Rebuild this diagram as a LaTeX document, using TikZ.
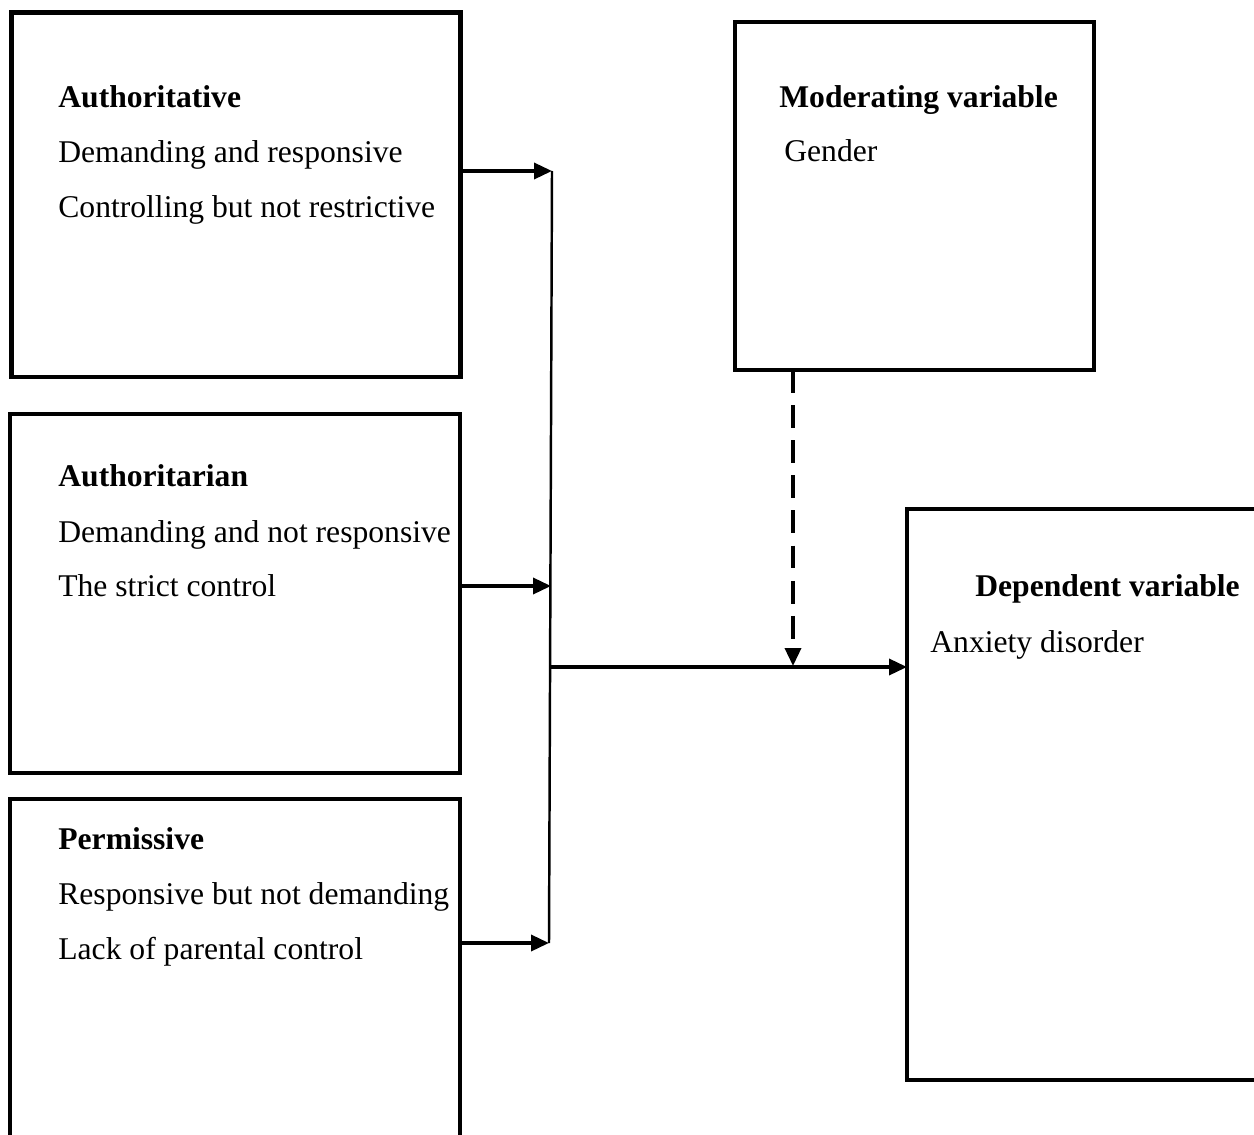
\documentclass[tikz,border=0pt]{standalone}
\usepackage{fontspec}
\setmainfont{Liberation Serif}
\usetikzlibrary{arrows.meta}

\tikzset{
  frame/.style = {draw, line width=2.6pt, inner sep=0pt, outer sep=0pt, anchor=north west},
  txt/.style = {anchor=base west, inner sep=0pt, font=\fontsize{18}{20}\selectfont},
  head/.style = {txt, font=\fontsize{18}{20}\selectfont\bfseries},
  link/.style = {line width=2pt, -{Triangle[length=0.36cm, width=0.32cm]}},
}

\begin{document}
\begin{tikzpicture}[x=0.02cm, y=-0.02cm]
  \useasboundingbox (0,0) rectangle (1254,1135);
  % boxes
  \node[frame, minimum width=8.98cm, minimum height=7.29cm] (authv) at (11.5,12.5) {};
  \node[frame, minimum width=9.0cm, minimum height=7.18cm] (autht) at (10,414) {};
  \node[frame, minimum width=9.0cm, minimum height=7.1cm] (perm) at (10,799) {};
  \node[frame, minimum width=7.18cm, minimum height=6.96cm] (moder) at (735,22) {};
  \node[frame, minimum width=7.2cm, minimum height=11.42cm] (dep) at (907,509) {};
  % texts
  \node[head] (authvH) at (58,108) {Authoritative};
  \node[txt] (authvA) at (58,163) {Demanding and responsive};
  \node[txt] (authvB) at (58,218) {Controlling but not restrictive};
  \node[head] (authtH) at (58,486) {Authoritarian};
  \node[txt] (authtA) at (58,542) {Demanding and not responsive};
  \node[txt] (authtB) at (58,596) {The strict control};
  \node[head] (permH) at (58,849) {Permissive};
  \node[txt] (permA) at (58,904) {Responsive but not demanding};
  \node[txt] (permB) at (58,959) {Lack of parental control};
  \node[head] (moderH) at (779,108) {Moderating variable};
  \node[txt] (moderA) at (784,162) {Gender};
  \node[head] (depH) at (975,596) {Dependent variable};
  \node[txt] (depA) at (930,652) {Anxiety disorder};
  % junctions
  \coordinate (jA) at (552,171);
  \coordinate (jB) at (551,586);
  \coordinate (jC) at (549,943);
  \coordinate (jH) at (551,667);
  \coordinate (jM) at (793,666);
  \draw[line width=1.4pt] (jA) -- (jC);
  \draw[link] (authv.east |- jA) -- (jA);
  \draw[link] (autht.east |- jB) -- (jB);
  \draw[link] (perm.east |- jC) -- (jC);
  \draw[link] (jH) -- (dep.west |- jH);
  \draw[link, dash pattern=on 13pt off 7pt] (moder.south -| jM) -- (jM);
\end{tikzpicture}
\end{document}
